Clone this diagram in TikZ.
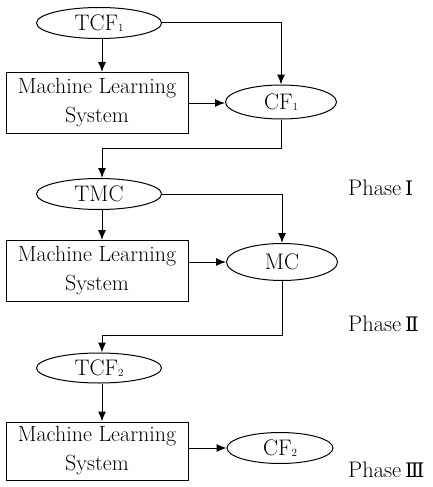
\documentclass[tikz,border=0pt]{standalone}
\usepackage{fontspec}
\usetikzlibrary{arrows.meta,shapes.geometric}
\newfontfamily\romanfont{DejaVu Serif}
\newcommand{\lowidx}[1]{\raisebox{-0.5pt}{\fontsize{11}{11}\selectfont #1}}

\begin{document}
\begin{tikzpicture}[
  x=1pt,
  y=-1pt,
  line join=miter,
  font=\fontsize{22.5}{24}\selectfont,
  oval/.style={draw,ellipse,line width=1pt,inner sep=0pt,minimum width=125pt,minimum height=31pt},
  result/.style={oval,minimum width=111pt,minimum height=34pt},
  mlbox/.style={draw,rectangle,line width=1pt,inner sep=0pt,minimum width=182pt,minimum height=61pt,align=center,font=\fontsize{22}{29}\selectfont},
  phase/.style={anchor=west,inner sep=0pt},
  flow/.style={draw,line width=1pt,-{Latex[length=10pt,width=8pt]}}
]
  \useasboundingbox (0,0) rectangle (432,487);

  % Phase I: training cases -> first feature set
  \node[oval] (tcfa) at (99,23) {TCF\lowidx{1}};
  \node[mlbox] (mla) at (97,103) {Machine Learning\\System};
  \node[result] (cfa) at (281,102) {CF\lowidx{1}};

  % Phase II: misclassified cases
  \node[oval] (tmc) at (99,194) {TMC};
  \node[mlbox] (mlb) at (97,271) {Machine Learning\\System};
  \node[result,minimum height=37pt] (mc) at (282,262) {MC};

  % Phase III: second feature set
  \node[oval,minimum height=30pt] (tcfb) at (99,368) {TCF\lowidx{2}};
  \node[mlbox,minimum height=58pt] (mlc) at (97,451) {Machine Learning\\System};
  \node[result,minimum width=106pt,minimum height=31pt] (cfb) at (280,448) {CF\lowidx{2}};

  \node[phase] (pha) at (348,188) {Phase\,{\romanfont\fontsize{20}{24}\selectfont Ⅰ}};
  \node[phase] (phb) at (348,324) {Phase\,{\romanfont\fontsize{20}{24}\selectfont Ⅱ}};
  \node[phase] (phc) at (348,470) {Phase\,{\romanfont\fontsize{20}{24}\selectfont Ⅲ}};

  % Turning points of the loop-back connectors
  \coordinate (backa) at (102,148);
  \coordinate (backb) at (102,335);

  \path[flow] (tcfa.south -| backa) -- (mla.north -| backa);
  \path[flow] (tcfa.east) -| (cfa.north);
  \path[flow] (mla.east) -- (cfa.west |- mla.east);
  \path[flow] (cfa.south) |- (backa) -- (tmc.north -| backa);

  \path[flow] (tmc.south -| backa) -- (mlb.north -| backa);
  \path[flow] (tmc.east) -| (mc.north);
  \path[flow] (mlb.east |- mc.west) -- (mc.west);
  \path[flow] (mc.south) |- (backb) -- (tcfb.north -| backb);

  \path[flow] (tcfb.south -| backb) -- (mlc.north -| backb);
  \path[flow] (mlc.east |- cfb.west) -- (cfb.west);
\end{tikzpicture}
\end{document}
